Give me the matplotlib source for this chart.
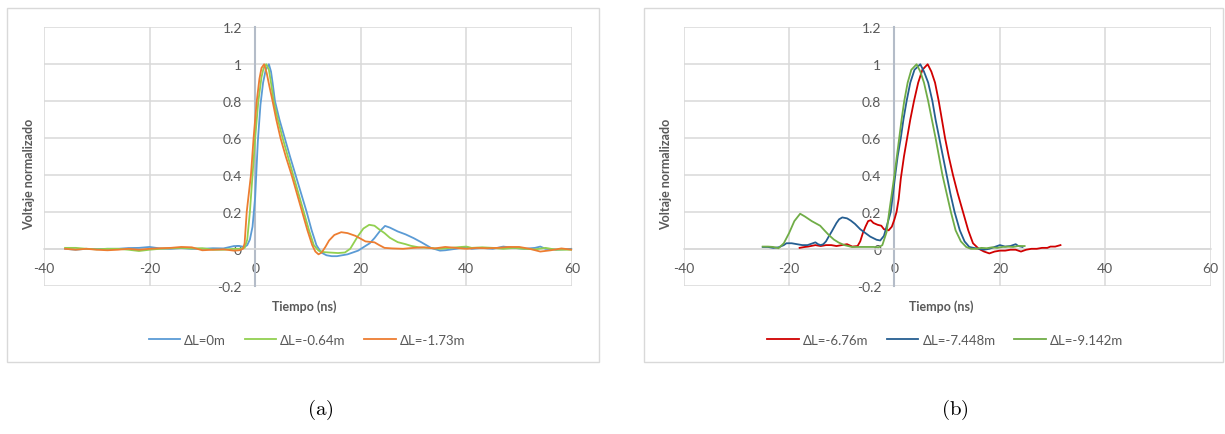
import matplotlib
matplotlib.use("Agg")
import matplotlib.pyplot as plt
from matplotlib.patches import Rectangle

# ---- panel (a) traces: time (ns), normalised voltage ----
t_a0 = [-36, -34, -32, -30, -28, -26, -24, -22, -20, -18, -16, -14, -12, -10, -8, -6,
        -4, -3, -2, -1.5, -1, -0.5, 0, 0.5, 1, 1.5, 2, 2.6, 3.0, 3.3, 3.75, 4.6, 5.6,
        6.6, 7.65, 8.7, 9.75, 10.7, 11.6, 12.5, 13.5, 14.5, 15.5, 16.5, 17.5, 18.5,
        19.5, 20.7, 21.7, 22.6, 23.6, 24.6, 25.5, 27, 28.5, 30, 31.5, 33.3, 35, 36, 38,
        40, 41, 43, 45, 47, 49, 51, 53, 54, 55, 57, 60]
v_a0 = [0, -0.005, 0, -0.002, 0, 0, 0.004, 0.005, 0.01, 0.002, 0, 0.004, 0, 0, 0.003,
        0.002, 0.015, 0.015, 0.01, 0.02, 0.05, 0.12, 0.28, 0.58, 0.78, 0.9, 0.97, 1.0,
        0.96, 0.9, 0.8, 0.7, 0.6, 0.5, 0.4, 0.3, 0.2, 0.1, 0.02, -0.02, -0.035, -0.04,
        -0.04, -0.035, -0.03, -0.02, -0.01, 0.012, 0.03, 0.058, 0.095, 0.124, 0.115,
        0.094, 0.078, 0.058, 0.035, 0.005, -0.01, -0.008, 0, 0.01, 0, 0.005, 0, 0.012,
        0.005, 0, 0.005, 0.012, 0, -0.005, 0]

t_a1 = [-36, -34, -32, -30, -28, -26, -24, -22, -20, -18, -16, -14, -12, -10, -8, -6,
        -4, -3, -2, -1.5, -1.0, -0.5, 0, 0.6, 1.2, 1.6, 2.1, 2.6, 3.0, 3.5, 4.3, 5.2,
        6.2, 7.2, 8.2, 9.2, 10.2, 11.1, 12, 13, 14, 15.7, 17, 18, 19.4, 20.5, 21.6,
        22.6, 23.5, 24.5, 25.5, 27, 28.5, 29.5, 31, 33, 35, 37, 39, 40, 41, 43, 45, 47,
        49, 51, 53, 55, 57, 60]
v_a1 = [0.005, 0.005, 0, -0.003, 0, 0, -0.005, -0.012, -0.005, 0, 0.003, 0.005, 0.002,
        0.003, -0.005, -0.005, 0, 0, 0.005, 0.05, 0.2, 0.4, 0.6, 0.8, 0.93, 0.98, 1.0,
        0.97, 0.9, 0.8, 0.7, 0.6, 0.5, 0.4, 0.3, 0.2, 0.1, 0.02, -0.01, -0.018, -0.02,
        -0.023, -0.02, 0, 0.066, 0.11, 0.13, 0.125, 0.105, 0.085, 0.06, 0.036, 0.025,
        0.016, 0.008, 0.005, 0, 0.005, 0.01, 0.012, 0.005, 0.008, 0.005, 0, 0.005, 0,
        -0.003, 0.005, -0.005, -0.005]

t_a2 = [-36, -34, -32, -30, -28, -26, -24, -22, -20, -18, -16, -14, -12, -10, -8, -6,
        -4, -3, -2.3, -2, -1.6, -1.2, -0.8, -0.3, 0.3, 0.8, 1.2, 1.7, 2.2, 2.7, 3.3, 4,
        4.8, 5.8, 6.9, 7.9, 8.9, 9.9, 10.8, 11.4, 12, 12.6, 13.3, 14, 15, 16.3, 17.5,
        19, 20.9, 22.6, 23.5, 24.5, 26, 28, 30, 32, 34, 36, 38, 40, 42, 44, 46, 48, 50,
        52, 54, 56, 58, 60]
v_a2 = [0, -0.005, 0, -0.005, -0.008, -0.005, 0, -0.005, 0, 0.003, 0.005, 0.01, 0.008,
        -0.008, -0.005, -0.003, -0.01, -0.008, 0, 0.03, 0.2, 0.3, 0.4, 0.6, 0.8, 0.92,
        0.98, 1.0, 0.95, 0.88, 0.8, 0.7, 0.6, 0.5, 0.4, 0.3, 0.2, 0.1, 0.02, -0.015,
        -0.03, -0.02, 0.01, 0.045, 0.075, 0.09, 0.085, 0.07, 0.04, 0.035, 0.02, 0.005,
        0.002, 0, 0.005, 0.008, 0.002, 0.01, 0.005, 0, 0.005, 0.003, 0.005, 0.01, 0.01,
        0, -0.015, -0.008, 0.002, -0.005]

# ---- panel (b) traces ----
t_b0 = [-18, -17, -16.4, -15, -14, -13, -12, -11, -10, -9, -8, -7, -6.5, -6, -5.5, -5,
        -4.5, -4, -3.2, -2.5, -2, -1.1, -0.5, 0, 0.4, 0.8, 1.2, 1.8, 2.4, 3.0, 3.7,
        4.5, 5.3, 6.3, 7.0, 7.7, 8.4, 9.0, 9.6, 10.3, 11.1, 12, 13, 14, 14.9, 16, 17,
        18, 19, 20, 21, 22, 23, 24, 25, 26, 27, 28, 29, 29.6, 30.5, 31.5]
v_b0 = [0.005, 0.01, 0.012, 0.02, 0.015, 0.02, 0.02, 0.015, 0.02, 0.025, 0.012, 0.015,
        0.04, 0.085, 0.12, 0.15, 0.155, 0.14, 0.13, 0.125, 0.106, 0.1, 0.12, 0.16, 0.2,
        0.27, 0.38, 0.5, 0.6, 0.7, 0.8, 0.9, 0.97, 1.0, 0.96, 0.9, 0.8, 0.7, 0.6, 0.5,
        0.4, 0.3, 0.2, 0.1, 0.03, 0, -0.015, -0.025, -0.015, -0.01, -0.01, -0.005,
        -0.005, -0.015, -0.005, 0, 0, 0.005, 0.005, 0.012, 0.012, 0.02]

t_b1 = [-25, -24, -23, -22, -21, -20.5, -19.5, -18.5, -17.5, -16.5, -15.5, -15, -14.5,
        -14, -13.5, -13, -12.5, -11.9, -11, -10.5, -9.9, -9, -8.3, -7.5, -6.5, -5.5,
        -4.6, -3.4, -2.7, -2, -1.5, -0.7, 0.15, 0.6, 1.2, 1.7, 2.3, 3.0, 3.8, 4.9, 5.6,
        6.4, 7.2, 7.8, 8.5, 9.2, 9.9, 10.6, 11.4, 12.4, 13.3, 14.2, 15, 16, 17, 18, 19,
        20, 21, 22, 23, 23.5, 24.3]
v_b1 = [0.01, 0.01, 0.005, 0.008, 0.02, 0.03, 0.03, 0.025, 0.02, 0.02, 0.03, 0.035,
        0.025, 0.02, 0.025, 0.04, 0.065, 0.094, 0.14, 0.16, 0.17, 0.165, 0.153, 0.135,
        0.106, 0.085, 0.066, 0.049, 0.045, 0.07, 0.12, 0.2, 0.4, 0.5, 0.6, 0.7, 0.8,
        0.9, 0.97, 1.0, 0.96, 0.9, 0.8, 0.7, 0.6, 0.5, 0.4, 0.3, 0.2, 0.1, 0.04, 0.01,
        0.005, 0, -0.005, 0, 0.01, 0.02, 0.012, 0.015, 0.025, 0.015, 0.01]

t_b2 = [-25, -24, -23, -22, -21, -20, -19, -17.9, -17, -15.7, -14.1, -13.3, -12.5,
        -11.5, -10.6, -9.5, -8.1, -7, -6, -5, -4, -3, -2.3, -1.5, -1.0, -0.5, 0, 0.45,
        0.9, 1.35, 1.85, 2.5, 3.2, 4.2, 4.9, 5.6, 6.4, 7.1, 7.8, 8.45, 9.1, 9.9, 10.7,
        11.6, 12.6, 13.6, 14.5, 15.5, 16.5, 17.5, 18.5, 19.5, 20.5, 21.5, 22.5, 23.5,
        24.7]
v_b2 = [0.012, 0.012, 0.01, 0.003, 0.03, 0.085, 0.15, 0.19, 0.175, 0.15, 0.125, 0.1,
        0.076, 0.05, 0.034, 0.02, 0.01, 0.01, 0.01, 0.01, 0.01, 0.008, 0.02, 0.09, 0.2,
        0.3, 0.4, 0.5, 0.6, 0.7, 0.8, 0.9, 0.97, 1.0, 0.96, 0.9, 0.8, 0.7, 0.6, 0.5,
        0.4, 0.3, 0.2, 0.1, 0.04, 0.01, 0, 0, 0.005, 0.003, 0.008, 0.005, 0.01, 0.012,
        0.01, 0.015, 0.015]

labels_a = ["ΔL=0m", "ΔL=-0.64m", "ΔL=-1.73m"]
labels_b = ["ΔL=-6.76m", "ΔL=-7.448m", "ΔL=-9.142m"]
colors_a = ["#5B9BD5", "#92D050", "#ED7D31"]
colors_b = ["#D00000", "#255E91", "#70AD47"]

xticks = [-40, -20, 0, 20, 40, 60]
yticks = [-0.2, 0, 0.2, 0.4, 0.6, 0.8, 1, 1.2]
ytick_labels = ["-0.2", "0", "0.2", "0.4", "0.6", "0.8", "1", "1.2"]

plt.rcParams["font.family"] = ["Lato", "DejaVu Sans"]
plt.rcParams["axes.unicode_minus"] = False
plt.rcParams["mathtext.fontset"] = "cm"

txt = "#595959"
grid = "#D9D9D9"

fig = plt.figure(figsize=(12.25, 4.35), dpi=100)

# light border round each chart area
for x0, w in [(0.0056, 0.4833), (0.526, 0.4724)]:
    fig.patches.append(Rectangle((x0, 0.1655), w, 0.8131, transform=fig.transFigure,
                                 fill=False, edgecolor=grid, lw=1.0))


def panel(rect, series, colors, labels, leg_x, title_x, ylab_x, tag, tag_x):
    ax = fig.add_axes(rect)
    for (t, v), c, lab in zip(series, colors, labels):
        ax.plot(t, v, color=c, lw=1.3, label=lab, zorder=3)
    ax.set_xlim(-40, 60)
    ax.set_ylim(-0.2, 1.2)
    ax.set_xticks(xticks)
    ax.set_yticks(yticks)
    ax.set_yticklabels(ytick_labels)
    ax.grid(True, color=grid, lw=1.1, zorder=0)
    ax.set_axisbelow(True)
    for s in ["top", "right"]:
        ax.spines[s].set_visible(False)
    # axes cross at the origin, Excel style
    ax.spines["left"].set_position(("data", 0))
    ax.spines["left"].set_color("#B4BCC8")
    ax.spines["left"].set_linewidth(1.5)
    ax.spines["bottom"].set_position(("data", 0))
    ax.spines["bottom"].set_color(grid)
    ax.spines["bottom"].set_linewidth(1.1)
    ax.tick_params(length=0, pad=9.5, labelsize=10, colors=txt)

    fig.text(title_x, 0.295, "Tiempo (ns)", ha="center", va="center",
             fontsize=9, fontweight="bold", color=txt)
    fig.text(ylab_x, 0.6, "Voltaje normalizado", ha="center", va="center",
             rotation=90, fontsize=9, fontweight="bold", color=txt)
    fig.legend(*ax.get_legend_handles_labels(), loc="center",
               bbox_to_anchor=(leg_x, 0.2168), ncol=3, frameon=False,
               fontsize=9.5, labelcolor=txt, handlelength=2.4,
               handletextpad=0.3, columnspacing=1.4)
    fig.text(tag_x, 0.0575, r"$\mathrm{(" + tag + ")}$", ha="center", va="center",
             fontsize=15)
    return ax


panel([0.0359, 0.3409, 0.431, 0.594], [(t_a0, v_a0), (t_a1, v_a1), (t_a2, v_a2)],
      colors_a, labels_a, 0.2506, 0.2482, 0.0234, "a", 0.2612)
panel([0.5581, 0.3409, 0.4302, 0.594], [(t_b0, v_b0), (t_b1, v_b1), (t_b2, v_b2)],
      colors_b, labels_b, 0.7714, 0.7682, 0.5437, "b", 0.7796)

fig.savefig("out.png", dpi=100)
